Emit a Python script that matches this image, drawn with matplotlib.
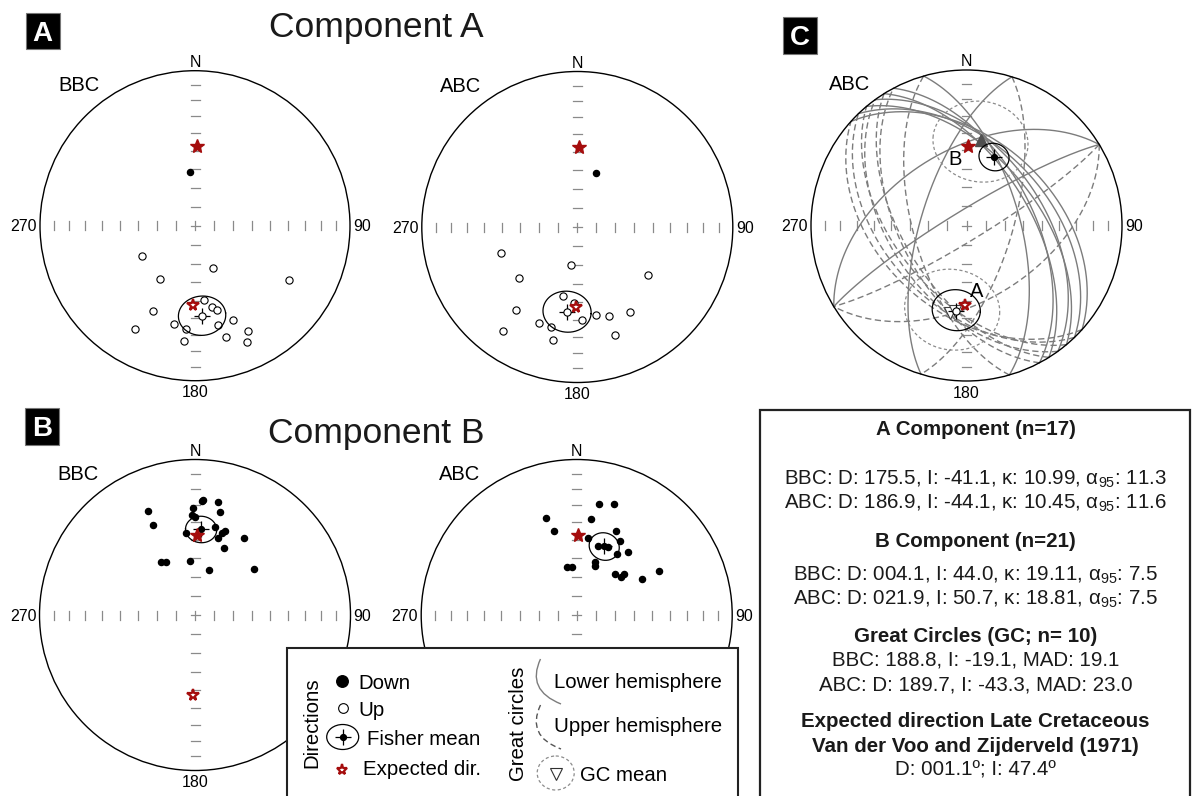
"""Equal-area stereonets of the A and B components plus great circles (ABC)."""
import numpy as np
import matplotlib
matplotlib.use("Agg")
import matplotlib.pyplot as plt
from matplotlib.patches import Circle, Ellipse, Rectangle, PathPatch
from matplotlib.path import Path

plt.rcParams["font.family"] = ["Liberation Sans", "DejaVu Sans"]
plt.rcParams["mathtext.fontset"] = "custom"
plt.rcParams["mathtext.rm"] = "Liberation Sans"
plt.rcParams["mathtext.default"] = "regular"

# ---------------- data (declination, inclination in degrees; inc < 0 = up) ----
a_bbc_dec = [354.7, 240.3, 156.8, 212.9, 120.2, 173.3, 167.9, 165.3, 206.5, 192.1,
             166.8, 158.0, 210.1, 185.1, 153.3, 185.3, 164.5, 155.9]
a_bbc_inc = [61.7, -57.9, -65.6, -56.1, -30.7, -50.3, -45.6, -43.3, -38.7, -35.6,
             -34.7, -34.5, -24.0, -33.3, -24.8, -26.0, -26.2, -19.1]

a_abc_dec = [19.0, 251.1, 189.9, 228.8, 124.3, 191.4, 216.3, 148.0, 167.9, 160.6,
             177.1, 201.7, 194.7, 215.4, 160.7, 192.3, 182.7]
a_abc_inc = [59.7, -46.8, -70.0, -49.0, -44.2, -52.5, -34.1, -36.0, -41.5, -39.2,
             -39.7, -33.9, -33.7, -18.9, -27.1, -26.5, -49.3]

b_bbc_dec = [3.4, 4.1, 11.6, 335.5, 359.1, 13.8, 358.1, 0.0, 335.1, 12.8, 19.6,
             18.1, 353.5, 16.4, 32.4, 23.6, 327.5, 331.7, 354.4, 17.5, 52.2]
b_bbc_inc = [27.4, 26.8, 26.5, 27.4, 31.6, 32.3, 35.9, 37.2, 36.1, 41.7, 42.0,
             44.0, 45.9, 47.0, 40.8, 51.2, 56.6, 58.0, 61.3, 65.1, 50.1]

b_abc_dec = [11.4, 18.4, 342.4, 8.5, 345.0, 24.8, 8.5, 30.3, 17.3, 24.6, 33.5,
             38.9, 19.1, 20.8, 348.2, 354.1, 43.3, 49.2, 49.1, 61.0, 61.9]
b_abc_inc = [28.0, 25.7, 35.1, 37.8, 43.6, 40.0, 48.4, 44.3, 51.5, 50.0, 51.2,
             46.6, 60.6, 62.4, 64.2, 64.6, 60.3, 59.1, 56.9, 50.1, 40.0]

# Fisher means: dec, inc, alpha95  (order: A BBC, A ABC, B BBC, B ABC)
mean_dec = [175.5, 186.9, 4.1, 21.9]
mean_inc = [-41.1, -44.1, 44.0, 50.7]
mean_a95 = [11.3, 11.6, 7.5, 7.5]

# expected Late Cretaceous direction (Van der Voo & Zijderveld 1971)
exp_dec, exp_inc = 1.1, 47.4

# great circles (ABC): dip direction, dip
gc_dipdir = [46.0, 50.0, 54.0, 58.0, 62.0, 74.0, 287.0, 328.6, 328.6, 42.0]
gc_dip = [47.0, 53.0, 50.0, 57.0, 55.0, 62.0, 66.0, 50.0, 82.0, 44.0]
# great-circle means (triangles) and their MAD circles
gcm_dec = [9.5, 190.6, 187.7]
gcm_inc = [43.5, -42.0, -44.0]
mad_dec = [9.5, 189.7]
mad_inc = [43.5, -43.3]
mad_val = [23.0, 23.0]

tick_inc = [10, 20, 30, 40, 50, 60, 70, 80]

box_text = [
    "A Component (n=17)",
    "BBC: D: 175.5, I: -41.1, κ: 10.99, α$_{95}$: 11.3",
    "ABC: D: 186.9, I: -44.1, κ: 10.45, α$_{95}$: 11.6",
    "B Component (n=21)",
    "BBC: D: 004.1, I: 44.0, κ: 19.11, α$_{95}$: 7.5",
    "ABC: D: 021.9, I: 50.7, κ: 18.81, α$_{95}$: 7.5",
    "Great Circles (GC; n= 10)",
    "BBC: 188.8, I: -19.1, MAD: 19.1",
    "ABC: D: 189.7, I: -43.3, MAD: 23.0",
    "Expected direction Late Cretaceous",
    "Van der Voo and Zijderveld (1971)",
    "D: 001.1º; I: 47.4º",
]
box_bold = [True, False, False, True, False, False, True, False, False, True, True, False]
box_base = [435, 485, 508.5, 546.7, 581, 605, 642.3, 666, 690.7, 726.7, 751.7, 776]

RED = "#a50d0d"
GREY = "#7c7c7c"
TICK = "#8a8a8a"
W, H = 1192, 796


# ---------------- projection helpers ----------------
def proj(dec, inc):
    d = np.radians(np.asarray(dec, float))
    i = np.radians(np.abs(np.asarray(inc, float)))
    r = np.sqrt(2) * np.sin((np.pi / 2 - i) / 2)
    return r * np.sin(d), r * np.cos(d)


def to_vec(dec, inc):
    d, i = np.radians(dec), np.radians(inc)
    return np.array([np.cos(i) * np.cos(d), np.cos(i) * np.sin(d), np.sin(i)])


def proj_vec(v):
    n, e, z = v
    h = np.hypot(n, e)
    h = np.where(h == 0, 1e-12, h)
    r = np.sqrt(np.clip(1 - np.abs(z), 0, None))
    return e / h * r, n / h * r


def small_circle(dec, inc, a):
    m = to_vec(dec, inc)
    ref = np.array([0.0, 0.0, 1.0]) if abs(m[2]) < 0.9 else np.array([1.0, 0.0, 0.0])
    u1 = np.cross(m, ref)
    u1 /= np.linalg.norm(u1)
    u2 = np.cross(m, u1)
    t = np.linspace(0, 2 * np.pi, 240)
    ar = np.radians(a)
    pts = (np.cos(ar) * m[:, None]
           + np.sin(ar) * (np.outer(u1, np.cos(t)) + np.outer(u2, np.sin(t))))
    return proj_vec(pts)


def great_circle(dipdir, dip):
    dd, dp = np.radians(dipdir), np.radians(dip)
    s = np.array([np.cos(dd - np.pi / 2), np.sin(dd - np.pi / 2), 0.0])
    dv = np.array([np.cos(dp) * np.cos(dd), np.cos(dp) * np.sin(dd), np.sin(dp)])
    lo = np.linspace(0, np.pi, 200)
    up = np.linspace(np.pi, 2 * np.pi, 200)
    low = np.outer(s, np.cos(lo)) + np.outer(dv, np.sin(lo))
    upp = np.outer(s, np.cos(up)) + np.outer(dv, np.sin(up))
    return proj_vec(low), proj_vec(upp)


# ---------------- figure ----------------
fig = plt.figure(figsize=(W / 100, H / 100), dpi=100)


def stereonet(cx, cy, R, label, south=True):
    ax = fig.add_axes([(cx - R) / W, 1 - (cy + R) / H, 2 * R / W, 2 * R / H])
    ax.set_xlim(-1, 1)
    ax.set_ylim(-1, 1)
    ax.axis("off")
    ax.add_patch(Circle((0, 0), 1, fill=False, lw=1.0, ec="black", clip_on=False, zorder=4))
    t = 4.5 / R
    for r in np.sqrt(2) * np.sin(np.radians(90 - np.array(tick_inc)) / 2):
        for sg in (1, -1):
            ax.plot([-t, t], [sg * r, sg * r], color=TICK, lw=0.9, zorder=1)
            ax.plot([sg * r, sg * r], [-t, t], color=TICK, lw=0.9, zorder=1)
    ax.plot([-t, t], [0, 0], color=TICK, lw=0.9, zorder=1)
    ax.plot([0, 0], [-t, t], color=TICK, lw=0.9, zorder=1)
    ax.text(0, 1 + 4 / R, "N", ha="center", va="baseline", fontsize=11.5)
    ax.text(1 + 3 / R, -5.7 / R, "90", ha="left", va="baseline", fontsize=11.5)
    ax.text(-1 - 3 / R, -5.7 / R, "270", ha="right", va="baseline", fontsize=11.5)
    if south:
        ax.text(0, -1 - 16.5 / R, "180", ha="center", va="baseline", fontsize=11.5)
    ax.text(-0.75, 0.87, label, ha="center", va="baseline", fontsize=14.5)
    return ax


def directions(ax, dec, inc):
    dec, inc = np.array(dec), np.array(inc)
    dn = inc >= 0
    x, y = proj(dec[dn], inc[dn])
    ax.plot(x, y, "o", ms=4.4, color="black", zorder=5, clip_on=False)
    x, y = proj(dec[~dn], inc[~dn])
    ax.plot(x, y, "o", ms=5.2, mfc="white", mec="black", mew=0.8, zorder=5, clip_on=False)


def fisher(ax, k):
    sx, sy = small_circle(mean_dec[k], mean_inc[k], mean_a95[k])
    ax.plot(sx, sy, color="black", lw=0.9, zorder=6)
    x, y = proj(mean_dec[k], mean_inc[k])
    ax.plot(x, y, marker="+", ms=12, mew=0.9, color="black", zorder=7)
    if mean_inc[k] < 0:
        ax.plot(x, y, "o", ms=5.2, mfc="white", mec="black", mew=0.8, zorder=8)
    else:
        ax.plot(x, y, "o", ms=4.2, color="black", zorder=8)


def stars(ax):
    x, y = proj(exp_dec, exp_inc)
    ax.plot(x, y, "*", ms=10.5, color=RED, mec=RED, zorder=9)
    x, y = proj(exp_dec + 180, -exp_inc)
    ax.plot(x, y, "*", ms=8.5, mfc="white", mec=RED, mew=1.6, zorder=9)


# panel A
ax = stereonet(195, 225.7, 155, "BBC")
directions(ax, a_bbc_dec, a_bbc_inc)
fisher(ax, 0)
stars(ax)

ax = stereonet(577.3, 227, 155.5, "ABC")
directions(ax, a_abc_dec, a_abc_inc)
fisher(ax, 1)
stars(ax)

# panel B
ax = stereonet(195, 615, 155.5, "BBC")
directions(ax, b_bbc_dec, b_bbc_inc)
fisher(ax, 2)
stars(ax)

ax = stereonet(576.7, 615, 155.5, "ABC", south=False)
directions(ax, b_abc_dec, b_abc_inc)
fisher(ax, 3)
stars(ax)

# panel C
ax = stereonet(966.5, 225.5, 155.5, "ABC")
for dd, dp in zip(gc_dipdir, gc_dip):
    (lx, ly), (ux, uy) = great_circle(dd, dp)
    ax.plot(lx, ly, color=GREY, lw=1.0, zorder=2)
    ax.plot(ux, uy, color=GREY, lw=1.0, dashes=(4.5, 2.5), zorder=2)
for d, i, a in zip(mad_dec, mad_inc, mad_val):
    sx, sy = small_circle(d, i, a)
    ax.plot(sx, sy, color="#8c8c8c", lw=0.9, dashes=(2.5, 2), zorder=3)
for d, i in zip(gcm_dec, gcm_inc):
    x, y = proj(d, i)
    if i >= 0:
        ax.plot(x, y, "^", ms=8, color="#505050", zorder=6)
    else:
        ax.plot(x, y, "v", ms=8, mfc="white", mec="#404040", mew=0.8, zorder=6)
fisher(ax, 1)
fisher(ax, 3)
stars(ax)
ax.annotate("A", proj(mean_dec[1], mean_inc[1]), xytext=(15, 10), textcoords="offset points",
            ha="center", va="baseline", fontsize=14.5, zorder=10)
ax.annotate("B", proj(mean_dec[3], mean_inc[3]), xytext=(-28, -6), textcoords="offset points",
            ha="center", va="baseline", fontsize=14.5, zorder=10)

# ---------------- overlay: titles, panel tags, legend, summary box ----------------
ov = fig.add_axes([0, 0, 1, 1], zorder=10)
ov.set_xlim(0, W)
ov.set_ylim(H, 0)
ov.axis("off")

ov.text(376.4, 37.3, "Component A", ha="center", va="baseline", fontsize=25.5, color="#1a1a1a")
ov.text(376.4, 443.3, "Component B", ha="center", va="baseline", fontsize=25.5, color="#1a1a1a")

for x0, y0, letter in [(26, 12.7, "A"), (25, 408, "B"), (783, 17, "C")]:
    ov.add_patch(Rectangle((x0, y0), 33.5, 36.5, fc="black", ec="#777777", lw=0.8))
    ov.text(x0 + 16.75, y0 + 28.2, letter, ha="center", va="baseline", color="white",
            fontsize=20, fontweight="bold")

# legend box
ov.add_patch(Rectangle((287, 648), 451, 160, fc="white", ec="#222222", lw=1.5, clip_on=False))
ov.text(312, 723, "Directions", rotation=90, ha="center", va="center", fontsize=14.7)
ov.text(518.5, 723.5, "Great circles", rotation=90, ha="center", va="center", fontsize=14.7)
ov.plot(341.7, 680.7, "o", ms=8.3, color="black")
ov.plot(342.7, 708, "o", ms=7, mfc="white", mec="black", mew=0.8)
ov.add_patch(Ellipse((342.7, 737), 32, 25, fill=False, ec="black", lw=0.9))
ov.plot(342.7, 737, marker="+", ms=11, mew=0.9, color="black")
ov.plot(342.7, 737, "o", ms=4.2, color="black")
ov.plot(341.7, 770, "*", ms=8, mfc="white", mec=RED, mew=1.6)
ov.text(358, 689, "Down", ha="left", va="baseline", fontsize=14.7)
ov.text(358, 715.7, "Up", ha="left", va="baseline", fontsize=14.7)
ov.text(367, 745, "Fisher mean", ha="left", va="baseline", fontsize=14.7)
ov.text(363, 775, "Expected dir.", ha="left", va="baseline", fontsize=14.7)

arc = Path([(540.5, 659), (526, 690), (561, 704)], [Path.MOVETO, Path.CURVE3, Path.CURVE3])
ov.add_patch(PathPatch(arc, fill=False, ec=GREY, lw=1.0))
arc2 = Path([(540.5, 705), (526, 736), (561, 749)], [Path.MOVETO, Path.CURVE3, Path.CURVE3])
ov.add_patch(PathPatch(arc2, fill=False, ec="#555555", lw=1.0, ls=(0, (4, 2.5))))
ov.add_patch(Ellipse((555.7, 773), 37, 34, fill=False, ec="#8c8c8c", lw=0.9, ls=(0, (2.5, 2))))
ov.plot(555.7, 774, "v", ms=8, mfc="white", mec="#303030", mew=0.8)
ov.text(554, 687.7, "Lower hemisphere", ha="left", va="baseline", fontsize=14.7)
ov.text(554, 731.7, "Upper hemisphere", ha="left", va="baseline", fontsize=14.7)
ov.text(580, 781, "GC mean", ha="left", va="baseline", fontsize=14.7)

# summary box
ov.add_patch(Rectangle((759.5, 409.5), 430.5, 400, fc="white", ec="#222222", lw=1.6, clip_on=False))
for txt, bold, yb in zip(box_text, box_bold, box_base):
    ov.text(975.5, yb, txt, ha="center", va="baseline", fontsize=14.8,
            fontweight="bold" if bold else "normal", color="#1a1a1a")

fig.savefig("out.png", dpi=100)
